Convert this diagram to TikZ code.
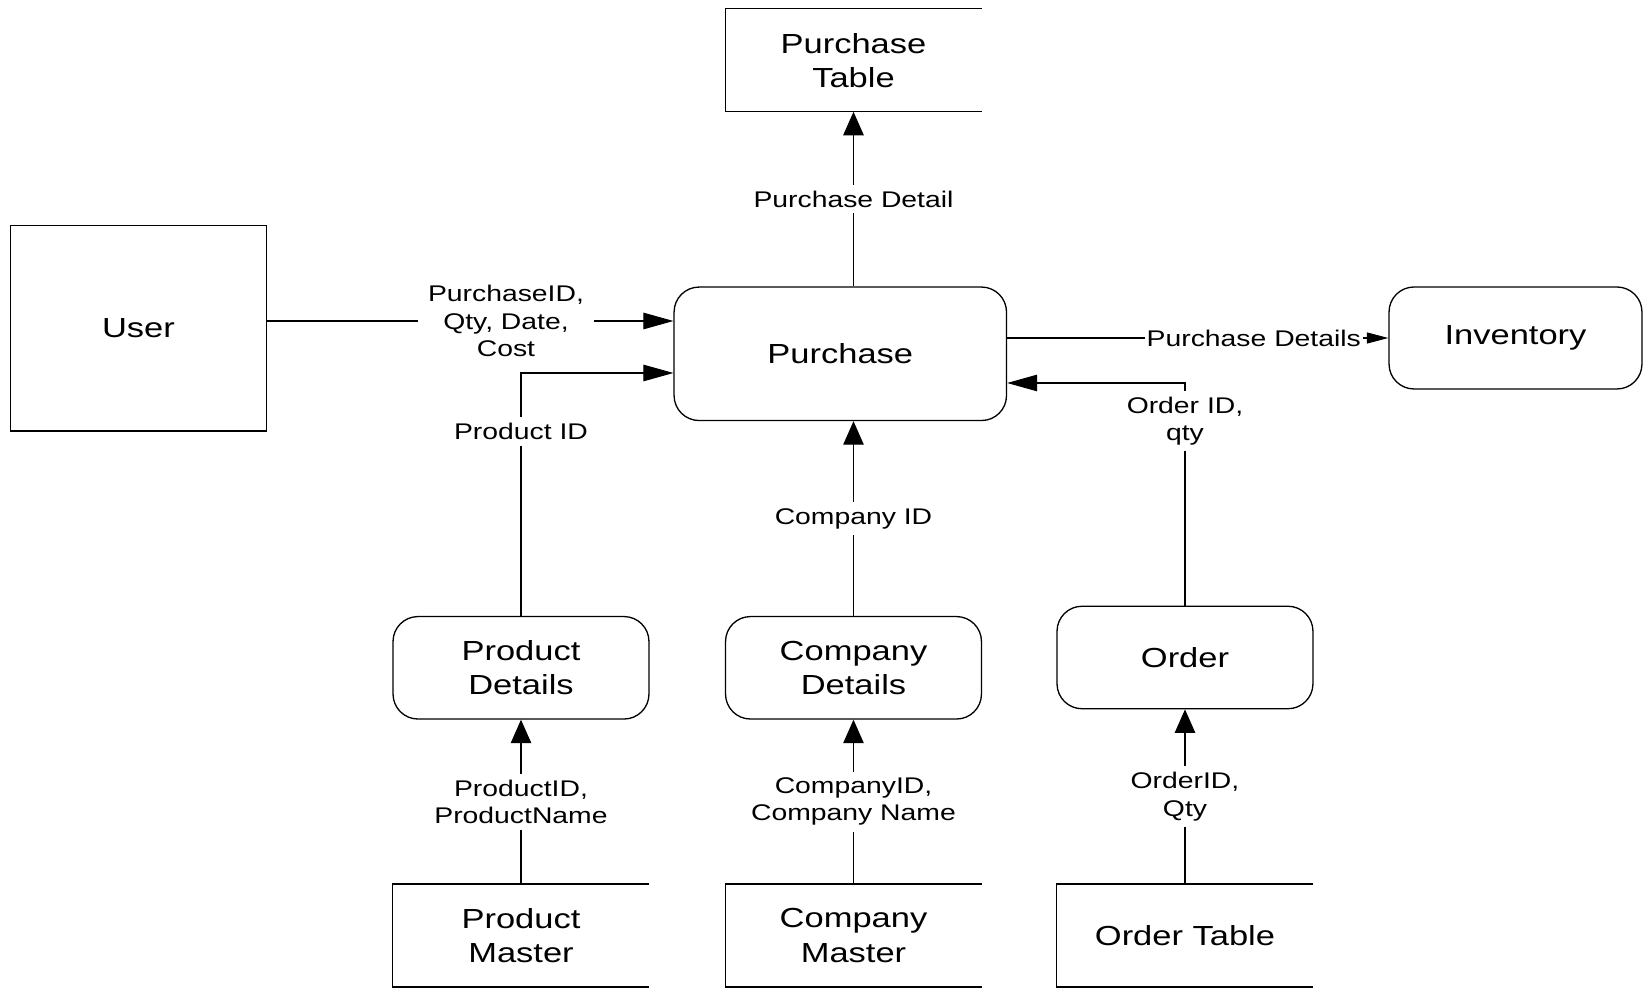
\documentclass[tikz,border=0pt]{standalone}
\usepackage{fontspec}
\setmainfont[FakeStretch=1.25]{Liberation Sans}
\usetikzlibrary{arrows.meta}

\newcommand{\boxfont}{\fontsize{15.7}{19.4}\selectfont}
\newcommand{\flowfont}{\fontsize{12.9}{15.5}\selectfont}

\tikzset{
  process/.style={draw, line width=0.75pt, rounded corners=0.5cm, minimum width=5.12cm,
    minimum height=2.05cm, align=center, font=\boxfont},
  outside/.style={draw, line width=0.75pt, minimum width=5.12cm, align=center, font=\boxfont},
  datastore/.style={minimum width=5.12cm, minimum height=2.05cm, align=center, font=\boxfont},
  flowlbl/.style={fill=white, font=\flowfont, align=center, inner xsep=0.2cm, inner ysep=0.12cm},
  upflow/.style={line width=0.6pt, -{Triangle[length=0.47cm, width=0.41cm]}},
  sideflow/.style={line width=0.6pt, -{Triangle[length=0.6cm, width=0.33cm]}},
  invflow/.style={line width=0.6pt, -{Triangle[length=0.43cm, width=0.22cm]}},
}

\begin{document}
\begin{tikzpicture}[x=0.02cm, y=-0.02cm]
  \useasboundingbox (0,0) rectangle (1644,989);

  % External entity
  \node[outside, minimum height=4.11cm] (user) at (138.4,328.2) {User};

  % Processes
  \node[process, minimum width=6.65cm, minimum height=2.67cm] (purchase) at (840.3,353.8) {Purchase};
  \node[process, minimum width=5.06cm, minimum height=2.04cm] (inventory) at (1515.5,338) {Inventory};
  \node[process] (proddet) at (521,667.8) {Product\\Details};
  \node[process] (compdet) at (853.5,667.8) {Company\\Details};
  \node[process] (order) at (1185,657.5) {Order};

  % Data stores, open on the right
  \node[datastore] (ptable) at (853.5,60.2) {Purchase\\Table};
  \node[datastore] (prodmaster) at (521,935.5) {Product\\Master};
  \node[datastore] (compmaster) at (853.5,935.5) {Company\\Master};
  \node[datastore] (ordertable) at (1185,935.5) {Order Table};
  \foreach \s in {ptable,prodmaster,compmaster,ordertable}
    \draw[line width=0.75pt] (\s.north east) -| (\s.south west) -- (\s.south east);

  \coordinate (in1) at ([yshift=0.656cm]purchase.west);
  \coordinate (in2) at ([yshift=-0.384cm]purchase.west);
  \coordinate (in3) at ([yshift=-0.584cm]purchase.east);

  % Flows
  \draw[upflow] (purchase.north -| ptable) -- node[flowlbl] {Purchase Detail} (ptable);
  \draw[sideflow] (user.east |- in1) -- node[flowlbl, pos=0.588] {PurchaseID,\\Qty, Date,\\Cost} (in1);
  \draw[sideflow] (proddet.north) |- node[flowlbl, pos=0.379] {Product ID} (in2);
  \draw[sideflow] (order.north) |- node[flowlbl, pos=0.414] {Order ID,\\qty} (in3);
  \draw[invflow] (purchase.east |- inventory) -- node[flowlbl, pos=0.647, inner xsep=1pt] {Purchase Details} (inventory);
  \draw[upflow] (compdet) -- node[flowlbl] {Company ID} (compdet |- purchase.south);

  \draw[upflow] (prodmaster) -- node[flowlbl] {ProductID,\\ProductName} (proddet);
  \draw[upflow] (compmaster) -- node[flowlbl] {CompanyID,\\Company Name} (compdet);
  \draw[upflow] (ordertable) -- node[flowlbl] {OrderID,\\Qty} (order);
\end{tikzpicture}
\end{document}
